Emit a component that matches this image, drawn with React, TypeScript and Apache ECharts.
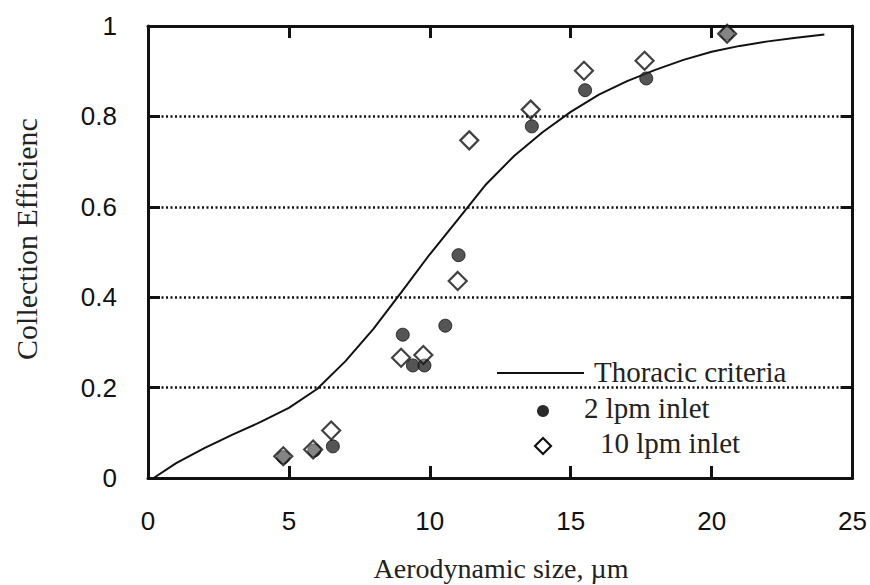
import React, { useEffect, useRef } from "react";
import * as echarts from "echarts";

const curveX = [0.2, 1, 2, 3, 4, 5, 6, 7, 8, 9, 10, 11, 12, 13, 14, 15, 16, 17, 18, 19, 20, 21, 22, 23, 24];
const curveY = [0, 0.033, 0.066, 0.096, 0.124, 0.155, 0.197, 0.258, 0.33, 0.412, 0.495, 0.572, 0.65, 0.713, 0.765, 0.81, 0.848, 0.878, 0.903, 0.925, 0.943, 0.956, 0.966, 0.974, 0.981];

const lpm2X = [4.8, 5.9, 6.56, 9.04, 9.4, 9.81, 10.55, 11.02, 13.62, 15.51, 17.68, 20.55];
const lpm2Y = [0.046, 0.061, 0.07, 0.317, 0.249, 0.249, 0.337, 0.493, 0.778, 0.858, 0.884, 0.983];

const lpm10X = [4.8, 5.86, 6.5, 8.98, 9.77, 10.99, 11.4, 13.58, 15.47, 17.62, 20.55];
const lpm10Y = [0.048, 0.063, 0.105, 0.266, 0.272, 0.436, 0.747, 0.815, 0.901, 0.923, 0.983];

const seriesNames = ["Thoracic criteria", "2 lpm inlet", "10 lpm inlet"];
const xTitle = "Aerodynamic size, \u00b5m";
const yTitle = "Collection Efficienc";

const DIAMOND = "path://M0,-1L1,0L0,1L-1,0Z";

export default function App() {
  const ref = useRef<HTMLDivElement>(null);
  useEffect(() => {
    if (!ref.current) return;
    const chart = echarts.init(ref.current, null, { renderer: "svg" });
    const sans = "'Liberation Sans', Arial, sans-serif";
    const serif = "'Liberation Serif', 'Times New Roman', serif";
    const tick = { show: true, inside: true, length: 12, lineStyle: { color: "#111", width: 3 } };
    const line = { show: true, onZero: false, lineStyle: { color: "#111", width: 3 } };
    chart.setOption({
      animation: false,
      backgroundColor: "#ffffff",
      grid: { left: 148, right: 16, top: 26, bottom: 107 },
      xAxis: [
        {
          type: "value", min: 0, max: 25, interval: 5, position: "bottom",
          axisLine: line, axisTick: tick,
          axisLabel: { margin: 30, fontFamily: sans, fontSize: 26, color: "#111" },
          splitLine: { show: false },
        },
        {
          type: "value", min: 0, max: 25, interval: 5, position: "top",
          axisLine: line, axisTick: tick, axisLabel: { show: false }, splitLine: { show: false },
        },
      ],
      yAxis: [
        {
          type: "value", min: 0, max: 1, interval: 0.2, position: "left",
          axisLine: line, axisTick: tick,
          axisLabel: { margin: 31, fontFamily: sans, fontSize: 26, color: "#111" },
          splitLine: { show: true, lineStyle: { color: "#111", width: 2.5, type: [2, 2.5] } },
        },
        {
          type: "value", min: 0, max: 1, interval: 0.2, position: "right",
          axisLine: line, axisTick: tick, axisLabel: { show: false }, splitLine: { show: false },
        },
      ],
      series: [
        {
          name: seriesNames[0], type: "line", xAxisIndex: 0, yAxisIndex: 0,
          data: curveX.map((x, i) => [x, curveY[i]]),
          showSymbol: false, smooth: false,
          lineStyle: { color: "#111", width: 2 }, z: 3,
        },
        {
          name: seriesNames[1], type: "scatter", xAxisIndex: 0, yAxisIndex: 0,
          data: lpm2X.map((x, i) => [x, lpm2Y[i]]),
          symbol: "circle", symbolSize: 13,
          itemStyle: { color: "#2a2a2a", borderColor: "#111", borderWidth: 1 }, z: 4,
        },
        {
          name: seriesNames[2], type: "scatter", xAxisIndex: 0, yAxisIndex: 0,
          data: lpm10X.map((x, i) => [x, lpm10Y[i]]),
          symbol: DIAMOND, symbolSize: 18,
          itemStyle: { color: "rgba(255,255,255,0.35)", borderColor: "#111", borderWidth: 2.2 }, z: 5,
        },
      ],
      graphic: [
        {
          type: "text", x: 26, y: 239, rotation: Math.PI / 2,
          style: { text: yTitle, font: `30px ${serif}`, fill: "#222", align: "center", verticalAlign: "middle" },
        },
        {
          type: "text", x: 501, y: 568,
          style: { text: xTitle, font: `28px ${serif}`, fill: "#222", align: "center", verticalAlign: "middle" },
        },
        {
          type: "line", shape: { x1: 497, y1: 373, x2: 584, y2: 373 },
          style: { stroke: "#111", lineWidth: 2 },
        },
        {
          type: "text", x: 594, y: 372,
          style: { text: seriesNames[0], font: `29px ${serif}`, fill: "#222", align: "left", verticalAlign: "middle" },
        },
        {
          type: "circle", shape: { cx: 543, cy: 411, r: 6 },
          style: { fill: "#2a2a2a" },
        },
        {
          type: "text", x: 584, y: 408,
          style: { text: seriesNames[1], font: `29px ${serif}`, fill: "#222", align: "left", verticalAlign: "middle" },
        },
        {
          type: "polygon", shape: { points: [[543, 438], [551, 446], [543, 454], [535, 446]] },
          style: { fill: "#fff", stroke: "#111", lineWidth: 2.2 },
        },
        {
          type: "text", x: 600, y: 443,
          style: { text: seriesNames[2], font: `29px ${serif}`, fill: "#222", align: "left", verticalAlign: "middle" },
        },
      ],
    });
    return () => chart.dispose();
  }, []);
  return <div ref={ref} style={{ width: 870, height: 585, position: "absolute", left: 0, top: 0 }} />;
}
